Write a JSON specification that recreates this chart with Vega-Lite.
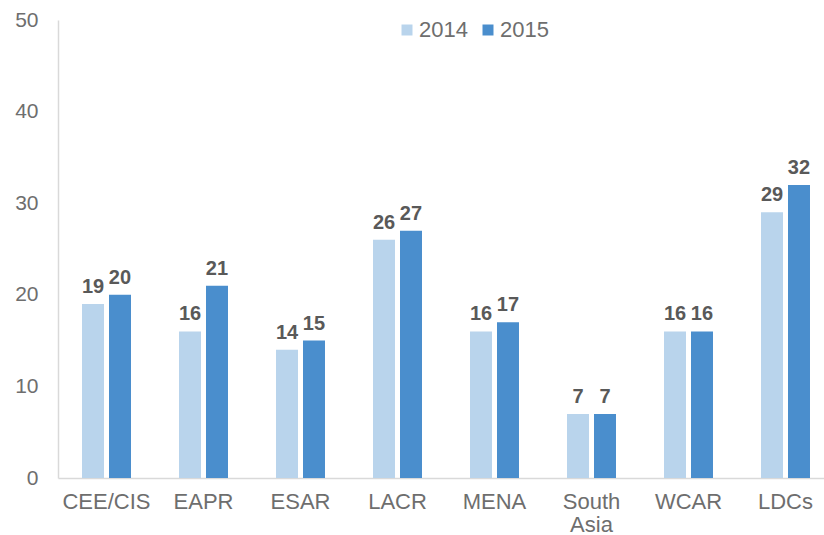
{
  "$schema": "https://vega.github.io/schema/vega-lite/v6.json",
  "width": 776,
  "height": 458,
  "autosize": {"type": "none"},
  "padding": {"left": 58, "top": 20, "right": 0, "bottom": 57},
  "background": "white",
  "config": {"view": {"stroke": null}, "font": "Liberation Sans"},
  "data": {"values": [
    {"region": "CEE/CIS", "year": "2014", "value": 19},
    {"region": "CEE/CIS", "year": "2015", "value": 20},
    {"region": "EAPR", "year": "2014", "value": 16},
    {"region": "EAPR", "year": "2015", "value": 21},
    {"region": "ESAR", "year": "2014", "value": 14},
    {"region": "ESAR", "year": "2015", "value": 15},
    {"region": "LACR", "year": "2014", "value": 26},
    {"region": "LACR", "year": "2015", "value": 27},
    {"region": "MENA", "year": "2014", "value": 16},
    {"region": "MENA", "year": "2015", "value": 17},
    {"region": "South Asia", "year": "2014", "value": 7},
    {"region": "South Asia", "year": "2015", "value": 7},
    {"region": "WCAR", "year": "2014", "value": 16},
    {"region": "WCAR", "year": "2015", "value": 16},
    {"region": "LDCs", "year": "2014", "value": 29},
    {"region": "LDCs", "year": "2015", "value": 32}
  ]},
  "encoding": {
    "x": {
      "field": "region", "type": "nominal", "sort": null,
      "scale": {"paddingInner": 0.495, "paddingOuter": 0.2475},
      "axis": {
        "title": null, "labelAngle": 0, "ticks": false,
        "domainColor": "#D9D9D9", "domainWidth": 1.5,
        "labelFontSize": 22, "labelColor": "#6E6E6E", "labelPadding": 13,
        "labelLineHeight": 23, "labelOverlap": false,
        "labelExpr": "datum.label == 'South Asia' ? ['South', 'Asia'] : datum.label"
      }
    },
    "xOffset": {"field": "year", "type": "nominal", "scale": {"paddingInner": 0.185, "paddingOuter": 0}},
    "y": {
      "field": "value", "type": "quantitative",
      "scale": {"domain": [0, 50], "nice": false},
      "axis": {
        "title": null, "values": [0, 10, 20, 30, 40, 50], "grid": false, "ticks": false,
        "labelOverlap": false,
        "domainColor": "#D9D9D9", "domainWidth": 1.5,
        "labelFontSize": 21, "labelColor": "#6E6E6E", "labelPadding": 20
      }
    }
  },
  "layer": [
    {
      "mark": {"type": "bar"},
      "encoding": {
        "color": {
          "field": "year", "type": "nominal",
          "scale": {"domain": ["2014", "2015"], "range": ["#B9D4EC", "#4A8ECD"]},
          "legend": {
            "title": null, "orient": "none", "direction": "horizontal",
            "legendX": 338, "legendY": -1, "padding": 0,
            "symbolType": "square", "symbolSize": 121, "symbolStrokeWidth": 0,
            "labelFontSize": 22, "labelColor": "#6E6E6E", "labelOffset": 1,
            "columnPadding": 9
          }
        }
      }
    },
    {
      "mark": {"type": "text", "baseline": "alphabetic", "dy": -11, "fontSize": 20, "fontWeight": "bold", "color": "#595959"},
      "encoding": {"text": {"field": "value", "type": "quantitative"}}
    }
  ]
}
